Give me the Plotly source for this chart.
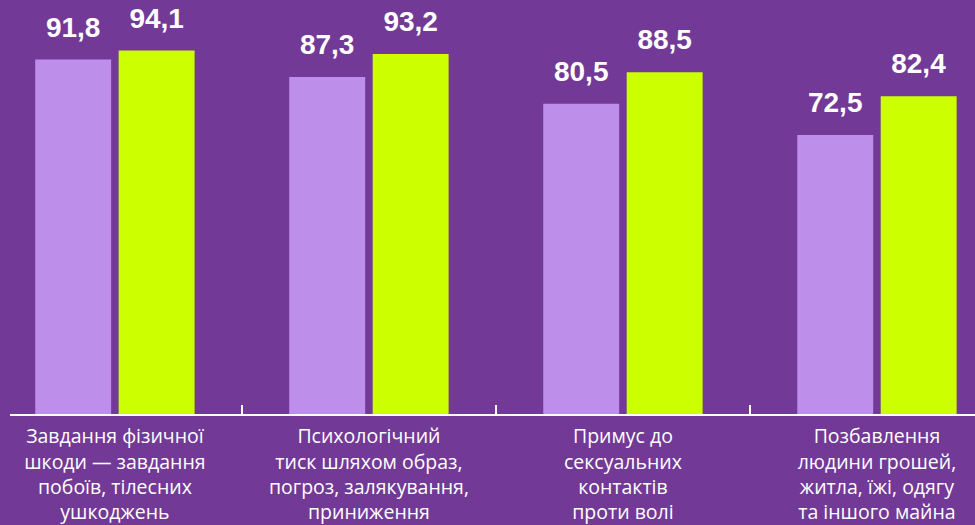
import plotly.graph_objects as go

categories = [
    "Завдання фізичної<br>шкоди — завдання<br>побоїв, тілесних<br>ушкоджень",
    "Психологічний<br>тиск шляхом образ,<br>погроз, залякування,<br>приниження",
    "Примус до<br>сексуальних<br>контактів<br>проти волі",
    "Позбавлення<br>людини грошей,<br>житла, їжі, одягу<br>та іншого майна",
]
series_a = [91.8, 87.3, 80.5, 72.5]
series_b = [94.1, 93.2, 88.5, 82.4]

BG = "#723996"
COL_A = "#BE8FEA"
COL_B = "#CCFF00"

tmpl = "<span style='font-size:28px'><b>%{y:.1f}</b></span><br> "

fig = go.Figure()
for vals, col in ((series_a, COL_A), (series_b, COL_B)):
    fig.add_trace(go.Bar(x=categories, y=vals, marker=dict(color=col, line=dict(width=0)),
                         texttemplate=tmpl, textposition="outside", cliponaxis=False,
                         constraintext="none", hoverinfo="skip",
                         textfont=dict(color="white", size=13, family="Liberation Sans")))

fig.update_layout(
    width=975, height=525,
    margin=dict(l=10, r=0, t=0, b=111, autoexpand=False),
    paper_bgcolor=BG, plot_bgcolor=BG,
    barmode="group", bargap=0.343, bargroupgap=0.09,
    showlegend=False,
    separators=",.",
)
fig.update_xaxes(
    range=[-0.413, 3.386], automargin=False,
    showline=True, linecolor="white", linewidth=2,
    ticks="inside", tickson="boundaries", ticklen=9, tickwidth=1.5, tickcolor="white",
    tickfont=dict(color="white", size=19.5, family="Open Sans", weight=500),
    ticklabelstandoff=4,
    showgrid=False, zeroline=False,
)
fig.update_yaxes(range=[1.15, 107], visible=False, showgrid=False, zeroline=False, automargin=False)

fig.write_html("out.html",
               config={"displayModeBar": False, "staticPlot": True},
               post_script="document.body.style.margin='0';document.body.style.overflow='hidden';")
